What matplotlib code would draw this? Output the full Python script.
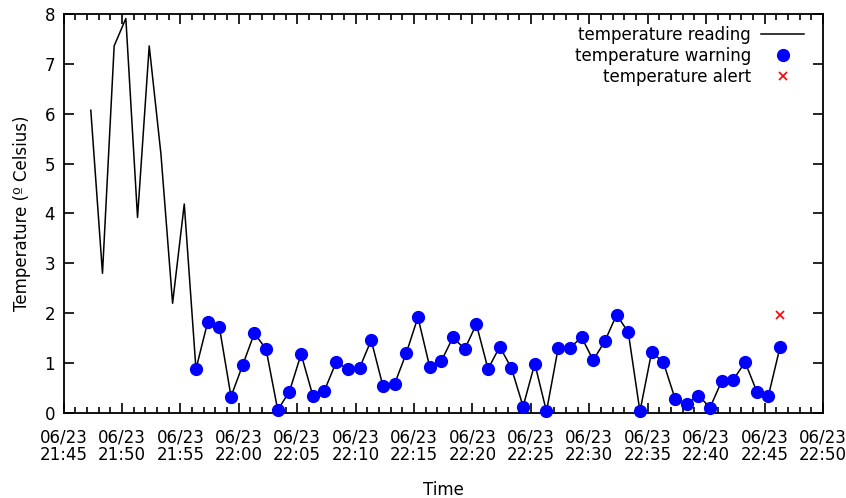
import matplotlib
matplotlib.use("Agg")
import matplotlib.pyplot as plt
import matplotlib.dates as mdates
from matplotlib.ticker import AutoMinorLocator
import pandas as pd

# readings, one per minute from 21:47:20
times = ["21:47:20", "21:48:20", "21:49:20", "21:50:20", "21:51:20", "21:52:20",
         "21:53:20", "21:54:20", "21:55:20", "21:56:20", "21:57:20", "21:58:20",
         "21:59:20", "22:00:20", "22:01:20", "22:02:20", "22:03:20", "22:04:20",
         "22:05:20", "22:06:20", "22:07:20", "22:08:20", "22:09:20", "22:10:20",
         "22:11:20", "22:12:20", "22:13:20", "22:14:20", "22:15:20", "22:16:20",
         "22:17:20", "22:18:20", "22:19:20", "22:20:20", "22:21:20", "22:22:20",
         "22:23:20", "22:24:20", "22:25:20", "22:26:20", "22:27:20", "22:28:20",
         "22:29:20", "22:30:20", "22:31:20", "22:32:20", "22:33:20", "22:34:20",
         "22:35:20", "22:36:20", "22:37:20", "22:38:20", "22:39:20", "22:40:20",
         "22:41:20", "22:42:20", "22:43:20", "22:44:20", "22:45:20", "22:46:20"]
temps = [6.07, 2.80, 7.36, 7.91, 3.92, 7.36, 5.20, 2.20, 4.19, 0.88,
         1.82, 1.73, 0.33, 0.96, 1.60, 1.28, 0.06, 0.43, 1.18, 0.35,
         0.45, 1.02, 0.88, 0.90, 1.46, 0.54, 0.58, 1.20, 1.92, 0.93,
         1.04, 1.52, 1.28, 1.78, 0.88, 1.33, 0.90, 0.13, 0.99, 0.03,
         1.30, 1.30, 1.52, 1.06, 1.44, 1.97, 1.62, 0.03, 1.22, 1.02,
         0.29, 0.19, 0.35, 0.11, 0.64, 0.67, 1.02, 0.43, 0.35, 1.33]
warn_start = 9  # warnings from 21:56:20 on

alert_times = ["22:46:20"]
alert_temps = [1.97]

day = "2023-06-23 "
t = pd.to_datetime([day + s for s in times])
ta = pd.to_datetime([day + s for s in alert_times])

plt.rcParams["font.family"] = ["DejaVu Sans"]
plt.rcParams["font.size"] = 12

fig = plt.figure(figsize=(8.46, 4.98), dpi=100)
ax = fig.add_axes([0.0751, 0.1707, 0.8977, 0.8012])

ax.plot(t, temps, color="black", lw=1.1, label="temperature reading")
ax.plot(t[warn_start:], temps[warn_start:], ls="none", marker="o", ms=8.5,
        color="#0000ff", label="temperature warning", clip_on=False, zorder=3)
ax.plot(ta, alert_temps, ls="none", marker="x", ms=6, mew=1.2, color="red",
        label="temperature alert", zorder=3)

ax.set_xlim(pd.Timestamp(day + "21:45"), pd.Timestamp(day + "22:50"))
ax.set_ylim(0, 8)
ax.xaxis.set_major_locator(mdates.MinuteLocator(byminute=range(0, 60, 5)))
ax.xaxis.set_minor_locator(mdates.MinuteLocator())
ax.xaxis.set_major_formatter(mdates.DateFormatter("%m/%d\n%H:%M"))
ax.yaxis.set_minor_locator(AutoMinorLocator(1))

ax.tick_params(which="both", direction="in", top=True, right=True, width=1.2)
ax.tick_params(which="major", length=7, pad=6)
ax.tick_params(axis="x", which="major", pad=11)
ax.tick_params(which="minor", length=4)
for lab in ax.get_xticklabels():
    lab.set_linespacing(1.0)
for s in ax.spines.values():
    s.set_linewidth(1.3)

ax.set_xlabel("Time", labelpad=12)
ax.set_ylabel("Temperature (º Celsius)", labelpad=10)

ax.legend(loc="upper right", bbox_to_anchor=(0.991, 1.0), frameon=False,
          markerfirst=False, handlelength=2.6, labelspacing=0.2,
          borderaxespad=0.3, handletextpad=0.6)

fig.savefig("out.png", dpi=100)
